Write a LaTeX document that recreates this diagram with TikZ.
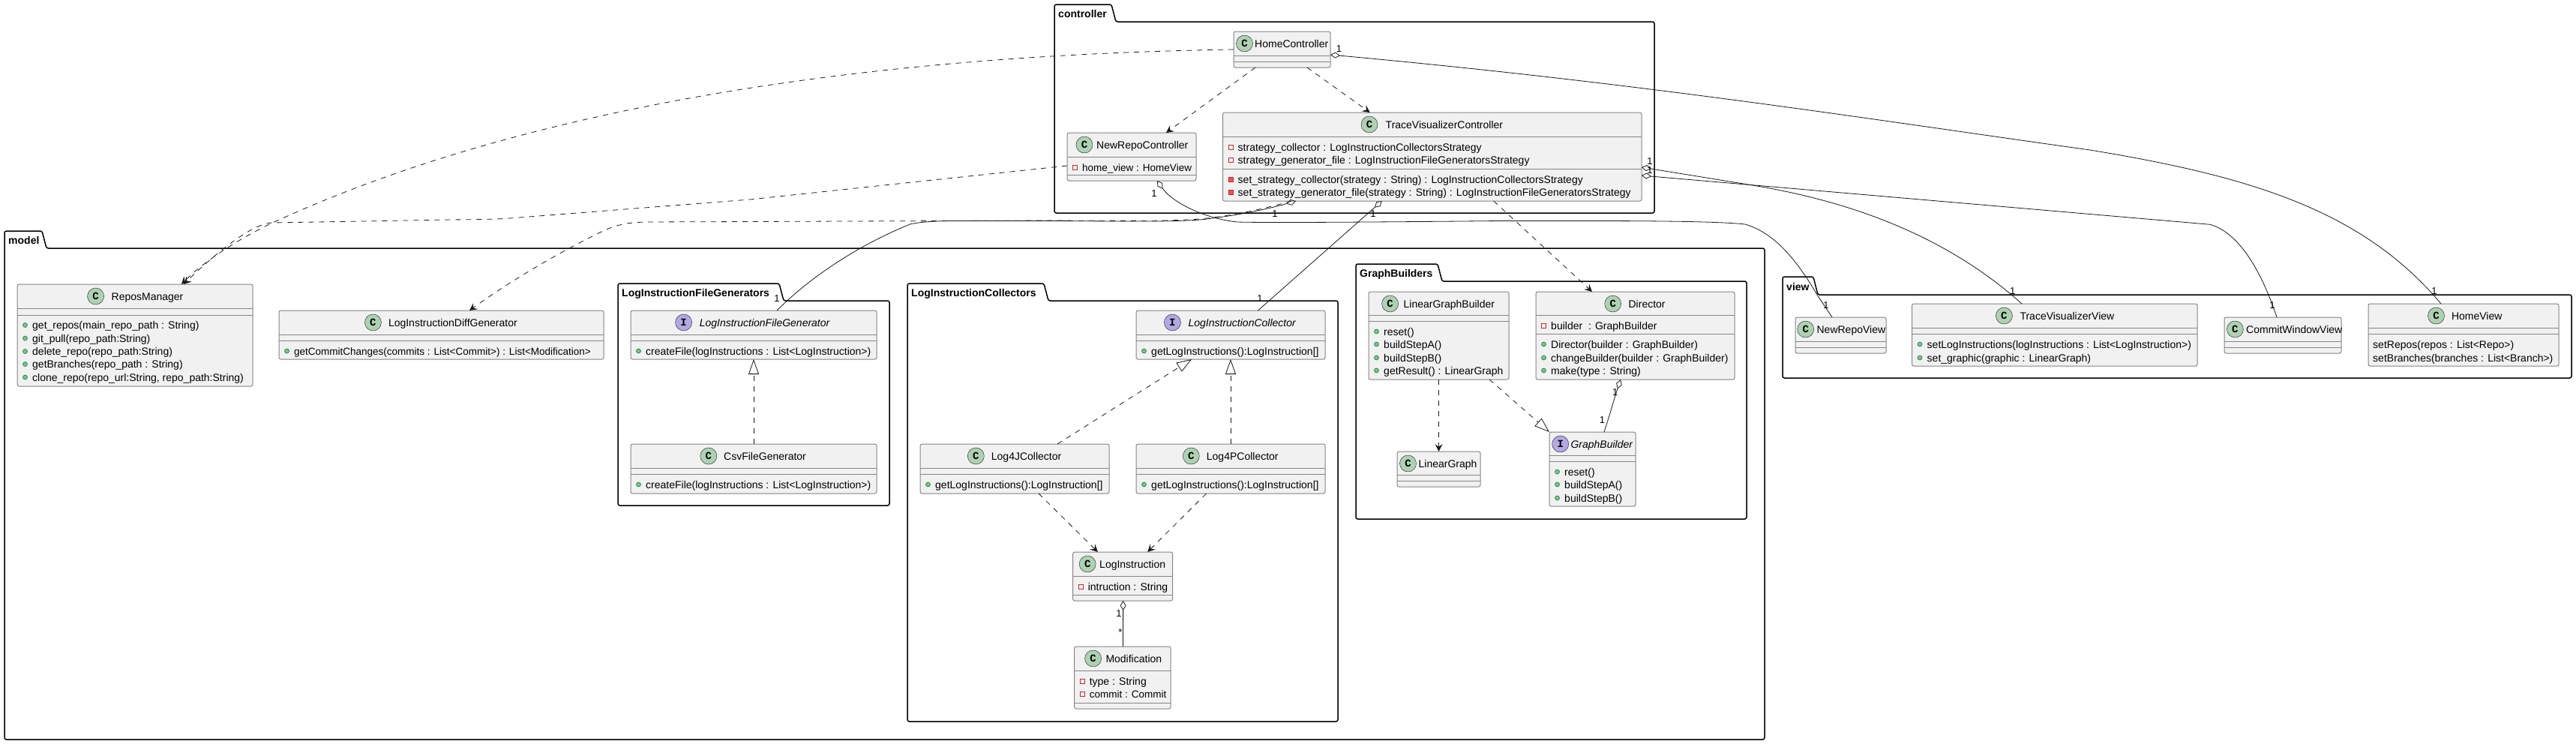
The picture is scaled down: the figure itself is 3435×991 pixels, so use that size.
\documentclass[tikz,border=0pt]{standalone}
\usepackage{fontspec}
\setmainfont{Liberation Sans}[Ligatures=NoCommon]
\setmonofont{Liberation Mono}
\usepackage{xcolor}
\usepackage{tikz}
\usetikzlibrary{arrows.meta, fit}
\definecolor{umlLine}{HTML}{181818}
\definecolor{boxEdge}{HTML}{858585}
\definecolor{boxBg}{HTML}{F1F1F1}
\definecolor{classBadge}{HTML}{ADD1B2}
\definecolor{faceBadge}{HTML}{B4A7E5}
\definecolor{privLine}{HTML}{C82930}
\definecolor{privFill}{HTML}{F24D5C}
\definecolor{pubLine}{HTML}{038048}
\definecolor{pubFill}{HTML}{84BE84}
\tikzset{
  classbox/.style={draw=boxEdge, line width=1pt, fill=boxBg, rounded corners=2.5pt, inner sep=0pt, outer sep=0pt},
  boxline/.style={draw=boxEdge, line width=1pt},
  badgeC/.style={circle, draw=umlLine, fill=classBadge, minimum size=22pt, inner sep=0pt, font=\fontsize{14}{16}\selectfont\ttfamily\bfseries},
  badgeI/.style={badgeC, fill=faceBadge},
  classtitle/.style={anchor=base west, inner sep=0pt},
  rowtext/.style={anchor=base west, inner sep=0pt},
  markfield/.style={draw=privLine, line width=.8pt, minimum size=6pt, inner sep=0pt},
  markpriv/.style={draw=privLine, fill=privFill, line width=.8pt, minimum size=6pt, inner sep=0pt},
  markpub/.style={circle, draw=pubLine, fill=pubFill, line width=.6pt, minimum size=6pt, inner sep=0pt},
  pkgframe/.style={draw=black, line width=1.5pt, rounded corners=2.5pt},
  pkglabel/.style={anchor=base west, inner sep=0pt, font=\fontsize{14}{16}\selectfont\bfseries},
  mult/.style={inner sep=0pt, font=\fontsize{13}{15}\selectfont},
  dep/.style={umlLine, line width=.8pt, dash pattern=on 7pt off 7pt, -{Stealth[length=10pt, width=10pt, inset=4pt]}},
  realize/.style={umlLine, line width=.8pt, dash pattern=on 7pt off 7pt, -{Triangle[open, length=20pt, width=14pt]}},
  aggr/.style={umlLine, line width=.8pt, {Diamond[open, length=13pt, width=8pt]}-},
}
\newcommand{\umlpackage}[8]{
  \draw[pkgframe] (#2,#4) -- (#2,#3) -- ([xshift=-6]#7,#3) -- (#7,#4) -- (#5,#4) -- (#5,#6) -- (#2,#6) -- cycle;
  \node[pkglabel] (#1) at ([xshift=5,yshift=6]#2,#4) {#8};
}
\newcommand{\umlclass}[8]{
  \node[classbox, fit={#3}] (#1) {};
  \draw[boxline] (#1.west |- 0,#4) -- (#1.east |- 0,#4);
  \draw[boxline] (#1.west |- 0,#5) -- (#1.east |- 0,#5);
  \node[badge#2] (#1-badge) at ([yshift=-16]#6,0 |- #1.north) {#2};
  \node[classtitle] (#1-title) at ([yshift=-21]#7,0 |- #1.north) {#8};
}
\newcommand{\classrow}[5]{
  \node[#4] (#1-#2m) at ([xshift=10.5]#1.west |- 0,#3) {};
  \node[rowtext] (#1-#2) at ([xshift=20,yshift=-5]#1.west |- 0,#3) {#5};
}
\newcommand{\plainrow}[4]{
  \node[rowtext] (#1-#2) at ([xshift=6,yshift=-5]#1.west |- 0,#3) {#4};
}
\newcommand{\snugtext}{\fontsize{13.5}{16}\selectfont}
\begin{document}
\begin{tikzpicture}[x=1pt, y=-1pt, font=\fontsize{14}{16}\selectfont]
  \useasboundingbox (0,0) rectangle (3435,991);

  \umlpackage{pkgController}{1406}{6}{29}{2206}{284}{1488}{controller}
  \umlpackage{pkgModel}{6}{308}{331}{2353}{986}{62}{model}
  \umlpackage{pkgFileGen}{824}{378}{401}{1186}{674}{1045}{LogInstructionFileGenerators}
  \umlpackage{pkgCollect}{1210}{378}{401}{1784}{962}{1398}{LogInstructionCollectors}
  \umlpackage{pkgGraph}{1808}{352}{375}{2329}{692}{1923}{GraphBuilders}
  \umlpackage{pkgView}{2377}{369}{393}{3429}{504}{2424}{view}

  \umlclass{hc}{C}{(1645,42) (1774,90)}{74}{82}{1659.5}{1673}{HomeController}
  \umlclass{nrc}{C}{(1423,177) (1595,241)}{209}{233}{1446}{1462}{NewRepoController}
  \classrow{nrc}{a}{223}{markfield}{\snugtext home\_view : HomeView}
  \umlclass{tvc}{C}{(1630.5,150) (2189,268)}{182}{225}{1826}{1847.5}{TraceVisualizerController}
  \classrow{tvc}{a}{196}{markfield}{strategy\_collector : LogInstructionCollectorsStrategy}
  \classrow{tvc}{b}{213}{markfield}{strategy\_generator\_file : LogInstructionFileGeneratorsStrategy}
  \classrow{tvc}{c}{239}{markpriv}{set\_strategy\_collector(strategy : String) : LogInstructionCollectorsStrategy}
  \classrow{tvc}{d}{256}{markpriv}{set\_strategy\_generator\_file(strategy : String) : LogInstructionFileGeneratorsStrategy}

  \umlclass{rm}{C}{(23,379) (337,515)}{411}{420}{127.6}{148.5}{ReposManager}
  \classrow{rm}{a}{433.5}{markpub}{get\_repos(main\_repo\_path : String)}
  \classrow{rm}{b}{451}{markpub}{git\_pull(repo\_path:String)}
  \classrow{rm}{c}{468.5}{markpub}{delete\_repo(repo\_path:String)}
  \classrow{rm}{d}{485.5}{markpub}{getBranches(repo\_path : String)}
  \classrow{rm}{e}{503}{markpub}{clone\_repo(repo\_url:String, repo\_path:String)}
  \umlclass{lidg}{C}{(372,414) (805,479)}{446}{454}{497.4}{517.8}{LogInstructionDiffGenerator}
  \classrow{lidg}{a}{468}{markpub}{\snugtext getCommitChanges(commits : List<Commit>) : List<Modification>}

  \umlclass{lifg}{I}{(841,414) (1169,479)}{446}{454}{911.6}{932.6}{\itshape LogInstructionFileGenerator}
  \classrow{lifg}{a}{468}{markpub}{createFile(logInstructions : List<LogInstruction>)}
  \umlclass{csv}{C}{(841,592) (1169,658)}{624}{632}{944.8}{965}{CsvFileGenerator}
  \classrow{csv}{a}{646}{markpub}{createFile(logInstructions : List<LogInstruction>)}

  \umlclass{lic}{I}{(1515,414) (1767,479)}{446}{454}{1563.4}{1584.4}{\itshape LogInstructionCollector}
  \classrow{lic}{a}{468}{markpub}{getLogInstructions():LogInstruction[]}
  \umlclass{ljc}{C}{(1227,592) (1479,658)}{624}{632}{1301.3}{1321.7}{Log4JCollector}
  \classrow{ljc}{a}{646}{markpub}{getLogInstructions():LogInstruction[]}
  \umlclass{lpc}{C}{(1515,592) (1767,658)}{624}{632}{1588.3}{1608.7}{Log4PCollector}
  \classrow{lpc}{a}{646}{markpub}{getLogInstructions():LogInstruction[]}
  \umlclass{li}{C}{(1430.6,736) (1563.7,801)}{768}{793}{1450.2}{1466}{LogInstruction}
  \classrow{li}{a}{782}{markfield}{intruction : String}
  \umlclass{mod}{C}{(1432.6,862) (1561,945)}{894}{937}{1457.6}{1474.3}{Modification}
  \classrow{mod}{a}{908}{markfield}{type : String}
  \classrow{mod}{b}{925}{markfield}{\snugtext commit : Commit}

  \umlclass{lgb}{C}{(1825,389) (2012,506)}{420}{428}{1853.6}{1871.4}{LinearGraphBuilder}
  \classrow{lgb}{a}{442}{markpub}{reset()}
  \classrow{lgb}{b}{459}{markpub}{buildStepA()}
  \classrow{lgb}{c}{477}{markpub}{buildStepB()}
  \classrow{lgb}{d}{494}{markpub}{getResult() : LinearGraph}
  \umlclass{dir}{C}{(2048,389) (2313,506)}{420}{445}{2150.7}{2171.4}{Director}
  \classrow{dir}{a}{434}{markfield}{builder~~: GraphBuilder}
  \classrow{dir}{b}{459}{markpub}{Director(builder : GraphBuilder)}
  \classrow{dir}{c}{477}{markpub}{changeBuilder(builder : GraphBuilder)}
  \classrow{dir}{d}{494}{markpub}{make(type : String)}
  \umlclass{lg}{C}{(1863,602) (1974,649)}{633}{641}{1877.5}{1891.4}{LinearGraph}
  \umlclass{gb}{I}{(2066,576) (2181,675)}{607}{615}{2080.7}{2094.3}{\itshape GraphBuilder}
  \classrow{gb}{a}{629}{markpub}{reset()}
  \classrow{gb}{b}{646}{markpub}{buildStepA()}
  \classrow{gb}{c}{664}{markpub}{buildStepB()}

  \umlclass{nrv}{C}{(2394,423) (2515,471)}{455}{463}{2407.7}{2422.4}{NewRepoView}
  \umlclass{tvv}{C}{(2549.5,405) (2930,488)}{437}{445}{2672.4}{2693.3}{TraceVisualizerView}
  \classrow{tvv}{a}{459}{markpub}{setLogInstructions(logInstructions : List<LogInstruction>)}
  \classrow{tvv}{b}{477}{markpub}{set\_graphic(graphic : LinearGraph)}
  \umlclass{cwv}{C}{(2966,423) (3122,471)}{455}{463}{2980.4}{2995}{CommitWindowView}
  \umlclass{hv}{C}{(3158,405) (3412,488)}{437}{445}{3248.5}{3268.8}{HomeView}
  \plainrow{hv}{a}{459}{setRepos(repos : List<Repo>)}
  \plainrow{hv}{b}{477}{setBranches(branches : List<Branch>)}

  \draw[dep] ([xshift=-35.5]hc.south) -- ([xshift=46]nrc.north);
  \draw[dep] ([xshift=33.5]hc.south) -- ([xshift=-83]tvc.north);
  \draw[dep] (hc.west) .. controls (1250,72) and (750,120) .. (368,295)
    .. controls (330,312) and (275,345) .. ([xshift=62]rm.north);
  \draw[dep] ([yshift=-12]nrc.west) -- (1000,266) -- (680,291)
    .. controls (660,292.5) and (640,292.5) .. (600,293) -- (363,297)
    .. controls (335,298) and (285,340) .. ([xshift=65]rm.north);
  \draw[dep] ([xshift=-187.5]tvc.south) .. controls (1680,280) and (1640,288) .. (1600,292)
    .. controls (1560,295) and (1500,294.5) .. (1400,294) -- (860,296)
    .. controls (835,297) and (820,299) .. (790,315)
    .. controls (740,340) and (680,375) .. ([xshift=37.5]lidg.north);
  \draw[dep] ([xshift=82]tvc.south) -- ([xshift=-57.5]dir.north);

  \draw[aggr] ([xshift=-181.75]tvc.south) .. controls (1690,279) and (1640,289) .. (1600,293)
    .. controls (1560,296) and (1500,295) .. (1400,294.5) -- (1267,294.5)
    .. controls (1240,295) and (1230,296) .. (1215,298.5)
    .. controls (1180,312) and (1100,350) .. ([xshift=31]lifg.north);
  \draw[aggr] ([xshift=-67]tvc.south) -- ([xshift=36.5]lic.north);
  \draw[aggr] ([xshift=34]nrc.south) .. controls (1565,272) and (1610,292) .. (1650,296)
    .. controls (1680,297) and (1800,296.5) .. (2000,294.5) -- (2100,294.5)
    .. controls (2200,294.5) and (2290,295) .. (2327,299)
    .. controls (2365,310) and (2395,345) .. (2423,393) -- ([xshift=-11.5]nrv.north);
  \draw[aggr] ([yshift=-7]hc.east) .. controls (2200,112) and (2500,160) .. (2787,200)
    .. controls (3000,235) and (3150,280) .. ([xshift=-30]hv.north);
  \draw[aggr] ([yshift=-14]tvc.east) -- (2343,248)
    .. controls (2460,268) and (2590,310) .. ([xshift=-43.75]tvv.north);
  \draw[aggr] ([yshift=-25]tvc.east) -- (2947,299.3)
    .. controls (2985,310) and (3015,360) .. ([xshift=-8]cwv.north);

  \draw[realize] (csv.north) -- (lifg.south);
  \draw[realize] ([xshift=57]ljc.north) -- ([xshift=-52]lic.south);
  \draw[realize] (lpc.north) -- (lic.south);
  \draw[dep] ([xshift=32]ljc.south) -- ([xshift=-33.3]li.north);
  \draw[dep] ([xshift=-32.4]lpc.south) -- ([xshift=33]li.north);
  \draw[aggr] ([xshift=.5]li.south) -- ([xshift=.7]mod.north);

  \draw[dep] (lgb.south) -- (lg.north);
  \draw[realize] ([xshift=67.5]lgb.south) -- ([xshift=-57.5]gb.north);
  \draw[aggr] ([xshift=-19.5]dir.south) .. controls (2153,530) and (2146,555) .. ([xshift=15.5]gb.north);

  \foreach \lbl/\x/\y in {a/1785.5/65, b/1539/258, c/1700/285, d/1831/285, e/2200/215, f/2200/227,
      g/1036/398, h/1680/398, i/1492/818, j/2153.6/523, k/2136.4/560,
      l/2435/407, m/2683.6/388, n/3030/407, o/3246/388} {
    \node[mult] (mult\lbl) at (\x,\y) {1};
  }
  \node[mult] (multStar) at (1494,843) {*};
\end{tikzpicture}
\end{document}
